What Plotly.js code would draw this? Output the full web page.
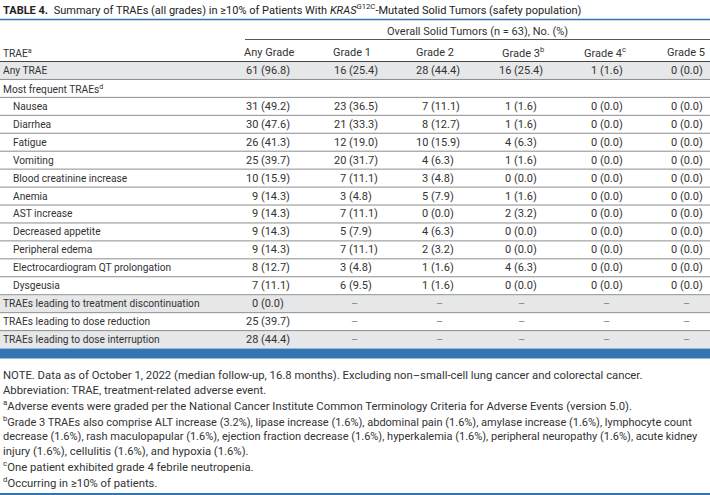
<!DOCTYPE html>
<html><head><meta charset="utf-8">
<script src="https://cdn.plot.ly/plotly-3.0.1.min.js"></script>
<style>html,body{margin:0;padding:0;background:#fff}#chart{width:710px;height:495px}</style>
</head><body><div id="chart"></div>
<script>
// ---------- data ----------
const tableTitle = "<b>TABLE 4.</b>\u2002Summary of TRAEs (all grades) in ≥10% of Patients With <i>KRAS</i><sup>G12C</sup>-Mutated Solid Tumors (safety population)";
const groupHeader = "Overall Solid Tumors (n = 63), No. (%)";
const firstColHeader = "TRAE<sup>a</sup>";
const gradeLabels = ["Any Grade", "Grade 1", "Grade 2", "Grade 3<sup>b</sup>", "Grade 4<sup>c</sup>", "Grade 5"];

const summaryRow = "Any TRAE";
const summaryCounts = [61, 16, 28, 16, 1, 0];
const summaryPcts = [96.8, 25.4, 44.4, 25.4, 1.6, 0.0];

const frequentGroup = "Most frequent TRAEs<sup>d</sup>";
const frequentTraes = ["Nausea", "Diarrhea", "Fatigue", "Vomiting", "Blood creatinine increase", "Anemia",
  "AST increase", "Decreased appetite", "Peripheral edema", "Electrocardiogram QT prolongation", "Dysgeusia"];
const frequentCounts = [
  [31, 23, 7, 1, 0, 0],
  [30, 21, 8, 1, 0, 0],
  [26, 12, 10, 4, 0, 0],
  [25, 20, 4, 1, 0, 0],
  [10, 7, 3, 0, 0, 0],
  [9, 3, 5, 1, 0, 0],
  [9, 7, 0, 2, 0, 0],
  [9, 5, 4, 0, 0, 0],
  [9, 7, 2, 0, 0, 0],
  [8, 3, 1, 4, 0, 0],
  [7, 6, 1, 0, 0, 0]
];
const frequentPcts = [
  [49.2, 36.5, 11.1, 1.6, 0.0, 0.0],
  [47.6, 33.3, 12.7, 1.6, 0.0, 0.0],
  [41.3, 19.0, 15.9, 6.3, 0.0, 0.0],
  [39.7, 31.7, 6.3, 1.6, 0.0, 0.0],
  [15.9, 11.1, 4.8, 0.0, 0.0, 0.0],
  [14.3, 4.8, 7.9, 1.6, 0.0, 0.0],
  [14.3, 11.1, 0.0, 3.2, 0.0, 0.0],
  [14.3, 7.9, 6.3, 0.0, 0.0, 0.0],
  [14.3, 11.1, 3.2, 0.0, 0.0, 0.0],
  [12.7, 4.8, 1.6, 6.3, 0.0, 0.0],
  [11.1, 9.5, 1.6, 0.0, 0.0, 0.0]
];

const actionRows = ["TRAEs leading to treatment discontinuation", "TRAEs leading to dose reduction", "TRAEs leading to dose interruption"];
const actionCounts = [0, 25, 28];
const actionPcts = [0.0, 39.7, 44.4];
const notApplicable = "–";

const notes = [
  "NOTE. Data as of October 1, 2022 (median follow-up, 16.8 months). Excluding non–small-cell lung cancer and colorectal cancer.",
  "Abbreviation: TRAE, treatment-related adverse event.",
  "<sup>a</sup>Adverse events were graded per the National Cancer Institute Common Terminology Criteria for Adverse Events (version 5.0).",
  "<sup>b</sup>Grade 3 TRAEs also comprise ALT increase (3.2%), lipase increase (1.6%), abdominal pain (1.6%), amylase increase (1.6%), lymphocyte count",
  "decrease (1.6%), rash maculopapular (1.6%), ejection fraction decrease (1.6%), hyperkalemia (1.6%), peripheral neuropathy (1.6%), acute kidney",
  "injury (1.6%), cellulitis (1.6%), and hypoxia (1.6%).",
  "<sup>c</sup>One patient exhibited grade 4 febrile neutropenia.",
  "<sup>d</sup>Occurring in ≥10% of patients."
];

// ---------- layout ----------
const W = 710, H = 495;
const FONT = "Roboto, 'Liberation Sans', sans-serif";
const TXT = "#333333";
const BLUE = "#3474b0";
const GRAY_FILL = "#e6e7e8";
const RULE = "#8c8c8c";
const valueRight = [290, 378, 460, 543, 629, 709];
const headerCenter = [269, 352, 435, 522.5, 604.5, 686];
const dashCenter = [269, 354, 439, 521, 606, 686];
const bodyTop = 61.5, rowH = 17.94;
const LABEL_SIZE = 10.2, VALUE_SIZE = 11, NOTE_SIZE = 11.3, LONG_NOTE_SIZE = 11.0, TITLE_SIZE = 11;

function fmt(c, p) {
  return c + " (" + p.toFixed(1) + ")" + (p < 10 ? "\u2007" : "");
}

const rows = [];
rows.push({label: summaryRow, indent: 0, fill: true, cells: summaryCounts.map((c, i) => fmt(c, summaryPcts[i]))});
rows.push({label: frequentGroup, indent: 0, fill: false, cells: null});
frequentTraes.forEach((t, r) => rows.push({label: t, indent: 1, fill: false,
  cells: frequentCounts[r].map((c, i) => fmt(c, frequentPcts[r][i]))}));
actionRows.forEach((t, r) => rows.push({label: t, indent: 0, fill: r !== 1,
  cells: gradeLabels.map((g, i) => i === 0 ? fmt(actionCounts[r], actionPcts[r]) : null)}));

const ann = [];
const shapes = [];
function text(x, y, t, anchor, opts) {
  opts = opts || {};
  ann.push({x: x, y: y, xref: "x", yref: "y", text: t, showarrow: false, xanchor: anchor, yanchor: "middle",
    borderpad: 0, borderwidth: 0,
    font: {family: FONT, size: opts.size || VALUE_SIZE, color: opts.color || TXT}});
}
function line(x0, x1, y, color, w) {
  shapes.push({type: "line", xref: "x", yref: "y", x0: x0, x1: x1, y0: y, y1: y, line: {color: color, width: w}});
}
function rect(x0, x1, y0, y1, color) {
  shapes.push({type: "rect", xref: "x", yref: "y", x0: x0, x1: x1, y0: y0, y1: y1, fillcolor: color, line: {width: 0}, layer: "below"});
}

// title
text(3, 9, tableTitle, "left", {size: TITLE_SIZE, color: "#222"});
line(0, W, 19.5, BLUE, 1.5);
// group header
text(477.5, 31, groupHeader, "center");
line(245, W, 39.5, "#555", 1);
// column headers
text(3, 52, firstColHeader, "left", {size: LABEL_SIZE});
gradeLabels.forEach((g, i) => text(headerCenter[i], 52, g, "center"));
line(0, W, bodyTop, "#444", 1);

rows.forEach((row, k) => {
  const y0 = bodyTop + k * rowH, y1 = y0 + rowH, yc = y0 + rowH / 2;
  if (row.fill) rect(0, W, y0 + 0.5, y1 - 0.5, GRAY_FILL);
  text(row.indent ? 13 : 3, yc, row.label, "left", {size: LABEL_SIZE});
  if (row.cells) {
    row.cells.forEach((c, i) => {
      if (c !== null) text(valueRight[i], yc, c, "right");
      else text(dashCenter[i], yc, notApplicable, "center", {color: "#888"});
    });
  }
  if (k < rows.length - 1) line(0, W, y1, RULE, 1);
});

const endY = bodyTop + rows.length * rowH;
rect(0, W, endY, endY + 10, BLUE);

notes.forEach((n, i) => text(3, 375.3 + i * 15.25, n, "left", {size: (i === 3 || i === 4) ? LONG_NOTE_SIZE : NOTE_SIZE}));
rect(0, W, 493, 495, BLUE);

const traces = [{x: [0, W], y: [0, H], type: "scatter", mode: "markers", marker: {opacity: 0}, hoverinfo: "skip", showlegend: false}];
const layout = {
  width: W, height: H, margin: {l: 0, r: 0, t: 0, b: 0},
  paper_bgcolor: "#fff", plot_bgcolor: "#fff",
  xaxis: {range: [0, W], visible: false, fixedrange: true},
  yaxis: {range: [H, 0], visible: false, fixedrange: true},
  annotations: ann, shapes: shapes, showlegend: false
};
Plotly.newPlot("chart", traces, layout, {displayModeBar: false, staticPlot: true});
</script></body></html>
